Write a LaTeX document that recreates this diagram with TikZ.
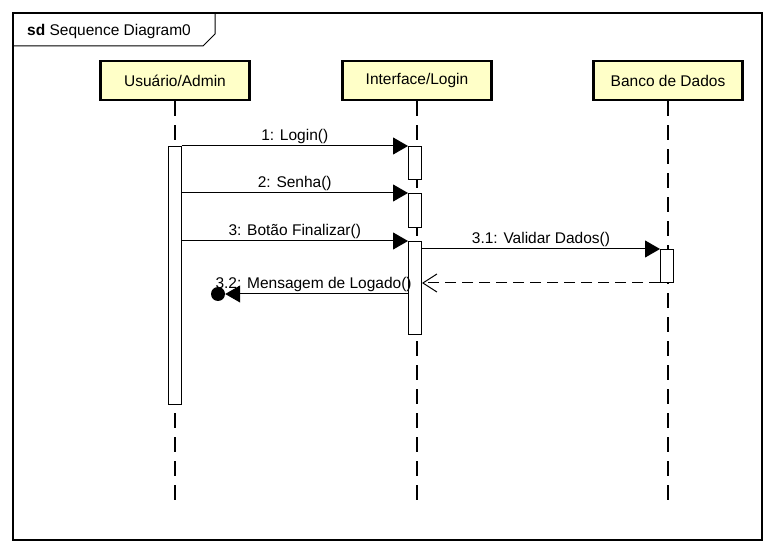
\documentclass[tikz,border=0pt]{standalone}
\usepackage{fontspec}
\setmainfont{Liberation Sans}
\usetikzlibrary{arrows.meta,positioning}

\definecolor{headfill}{RGB}{255,255,200}

\begin{document}
\begin{tikzpicture}[
  x=1pt, y=-1pt,
  font=\fontsize{15.5}{18}\selectfont,
  head/.style={draw, line width=2.6pt, fill=headfill, minimum width=149pt, minimum height=39pt, inner sep=0pt},
  life/.style={line width=1.1pt, dash pattern=on 15pt off 9pt},
  bar/.style={draw, fill=white, line width=1pt, minimum width=13pt, inner sep=0pt, anchor=north},
  msg/.style={line width=1pt, -{Triangle[length=15pt, width=17pt]}},
  reply/.style={line width=1pt, dash pattern=on 11pt off 6pt, -{Straight Barb[length=14pt, width=18pt]}},
  lbl/.style={anchor=base, yshift=5pt, inner sep=0pt}
]
\useasboundingbox (0,0) rectangle (774,553);

% frame with its name tab
\draw[line width=1.2pt] (13,13) rectangle (762,540);
\draw[line width=1pt] (13,46) -- (203,46) -- (215,34) -- (215,13);
\node[anchor=base west, inner sep=0pt] (title) at (27,36) {\textbf{sd} Sequence Diagram0};

% lifeline heads
\node[head] (usr) at (175,80.5) {Usuário/Admin};
\node[head] (ui) at (417,80.5) {Interface/Login};
\node[head] (db) at (668,80.5) {Banco de Dados};

\coordinate (lifeend) at (0,500);
\draw[life] (usr.south) -- (usr.south |- lifeend);
\draw[life] (ui.south) -- (ui.south |- lifeend);
\draw[life] (db.south) -- (db.south |- lifeend);

% activation bars
\node[bar, minimum height=258pt] (busr) at (174.5,146) {};
\node[bar, minimum height=33pt] (bui1) at (415,146) {};
\node[bar, minimum height=34pt] (bui2) at (415,193) {};
\node[bar, minimum height=93pt] (bui3) at (415,241) {};
\node[bar, minimum height=33pt] (bdb) at (667,249) {};

% lost message end
\node[circle, fill=black, inner sep=0pt, minimum size=14pt] (lost) at (218,294) {};

% messages
\draw[msg] (busr.east |- bui1.north west) -- node[lbl] {1: Login()} (bui1.north west);
\draw[msg] (busr.east |- bui2.north west) -- node[lbl] {2: Senha()} (bui2.north west);
\draw[msg] (busr.east |- bui3.north west) -- node[lbl] {3: Botão Finalizar()} (bui3.north west);
\draw[msg] (bui3.east |- bdb.north west) -- node[lbl] {3.1: Validar Dados()} (bdb.north west);
\draw[reply] (bdb.south west) -- (bui3.east |- bdb.south west);
\draw[msg] (bui3.west |- lost) -- node[lbl, xshift=-3pt] {3.2: Mensagem de Logado()} (lost.east);
\end{tikzpicture}
\end{document}
